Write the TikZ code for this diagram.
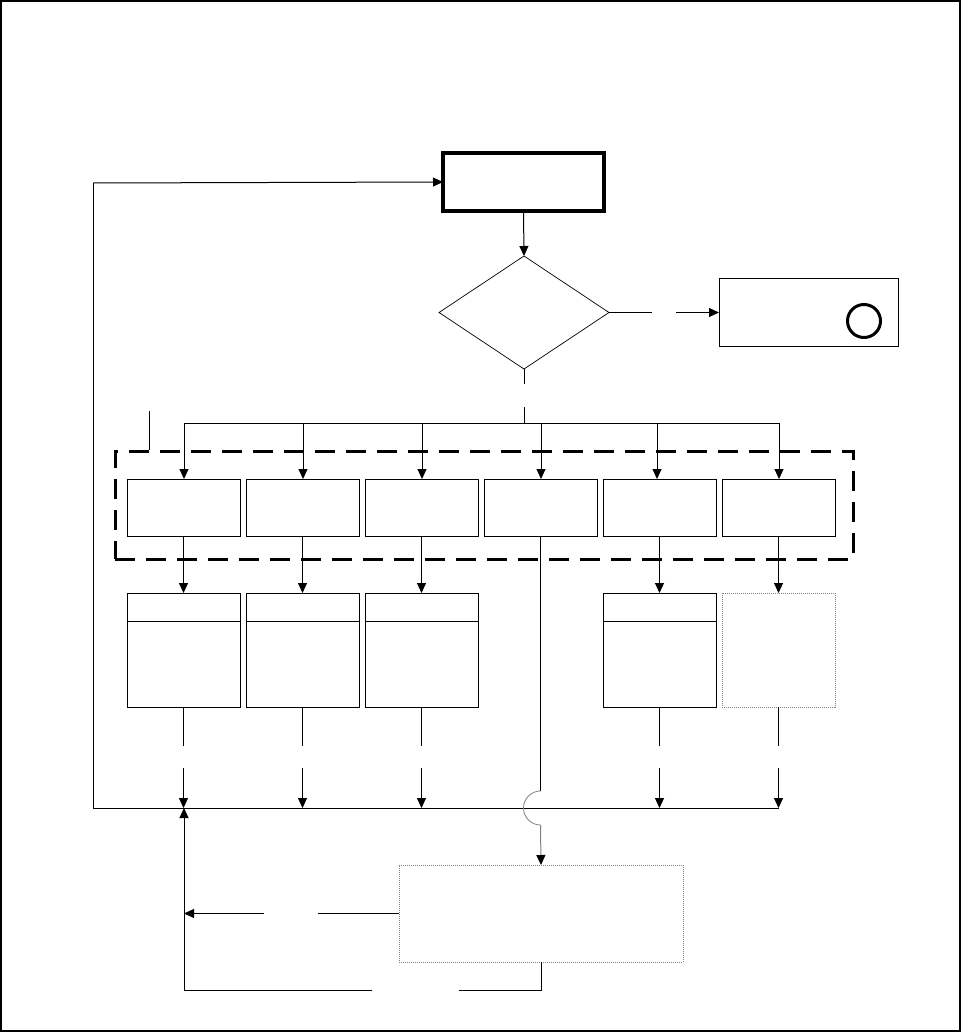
\documentclass[tikz,border=0pt]{standalone}
\usetikzlibrary{arrows.meta,shapes.geometric}
\begin{document}
\begin{tikzpicture}[x=1pt,y=-1pt,
  ln/.style={line width=1pt,draw=black},
  arr/.style={ln,-{Triangle[length=10pt,width=9pt]}},
  plainbox/.style={draw,line width=1pt,rectangle,minimum width=113pt,minimum height=57pt,inner sep=0pt,outer sep=0pt},
  tallbox/.style={draw,line width=1pt,rectangle,minimum width=113pt,minimum height=114pt,inner sep=0pt,outer sep=0pt},
  dotbox/.style={draw=gray,line width=0.8pt,dash pattern=on 1pt off 1pt,rectangle,inner sep=0pt,outer sep=0pt},
]
\useasboundingbox (0,0) rectangle (963,1033);
\draw[line width=1.5pt] (1,1) rectangle (960,1031);

% top elements
\node[draw,line width=4pt,rectangle,minimum width=161pt,minimum height=58pt,inner sep=0pt,outer sep=0pt] (start) at (523.5,182) {};
\node[draw,line width=0.7pt,diamond,minimum width=170pt,minimum height=113pt,inner sep=0pt,outer sep=0pt] (dec) at (524,312.5) {};
\node[draw,line width=1pt,rectangle,minimum width=179pt,minimum height=68pt,inner sep=0pt,outer sep=0pt] (endbox) at (808.5,312) {};
\node[draw,line width=3pt,circle,minimum size=33pt,inner sep=0pt] (endmark) at (864,321) {};

\draw[arr] (start.south) -- (dec.north);
\coordinate (dr1) at (652,312.5);
\coordinate (dr2) at (676,312.5);
\draw[ln] (dec.east) -- (dr1);
\draw[arr] (dr2) -- (dr2 -| endbox.west);

% bus
\coordinate (dd1) at (524,384);
\coordinate (dd2) at (524,407);
\coordinate (hub) at (524,423);
\draw[ln] (dec.south) -- (dd1);
\draw[ln] (dd2) -- (hub);
\coordinate (b1) at (184,423);
\coordinate (b2) at (303,423);
\coordinate (b3) at (422,423);
\coordinate (b4) at (541,423);
\coordinate (b5) at (657,423);
\coordinate (b6) at (779,423);
\draw[ln] (b1) -- (b6);

% dashed group
\node[draw,line width=3pt,dash pattern=on 20pt off 11pt,rectangle,minimum width=738pt,minimum height=108pt,inner sep=0pt] (group) at (484,505) {};
\coordinate (tk1) at (149,411);
\draw[ln] (tk1) -- (tk1 |- group.north);

% row 1
\node[plainbox] (r1a) at (183.5,507.5) {};
\node[plainbox] (r1b) at (302.5,507.5) {};
\node[plainbox] (r1c) at (421.5,507.5) {};
\node[plainbox] (r1d) at (540.5,507.5) {};
\node[plainbox] (r1e) at (659.5,507.5) {};
\node[plainbox] (r1f) at (778.5,507.5) {};
\foreach \b/\r in {b1/r1a,b2/r1b,b3/r1c,b4/r1d,b5/r1e,b6/r1f}
  \draw[arr] (\b) -- (\b |- \r.north);

% row 2
\node[tallbox] (r2a) at (183.5,650) {};
\node[tallbox] (r2b) at (302.5,650) {};
\node[tallbox] (r2c) at (421.5,650) {};
\node[tallbox] (r2e) at (659.5,650) {};
\node[dotbox,minimum width=113pt,minimum height=114pt] (r2f) at (778.5,650) {};
\foreach \r in {r2a,r2b,r2c,r2e}
  \draw[ln] ([yshift=-28pt]\r.north west) -- ([yshift=-28pt]\r.north east);
\foreach \a/\b in {r1a/r2a,r1b/r2b,r1c/r2c,r1e/r2e,r1f/r2f}
  \draw[arr] (\a.south) -- (\b.north);

% return bus
\coordinate (lb) at (93,808);
\coordinate (rb) at (779,808);
\draw[ln] (rb) -- (lb) -- (93,183) coordinate (lt);
\draw[arr] (lt) -- (start.west);
\foreach \r in {r2a,r2b,r2c,r2e,r2f}{
  \draw[ln] (\r.south) -- ([yshift=-39pt]\r.south);
  \draw[arr] ([yshift=-61pt]\r.south) -- (\r.south |- lb);
}

% hop over return bus
\coordinate (hop1) at (540.5,791);
\coordinate (hop2) at (540.5,825);
\draw[ln] (r1d.south) -- (hop1);
\draw[line width=0.8pt,draw=gray] (hop1) arc[start angle=270,end angle=90,radius=17];

% bottom box
\node[dotbox,minimum width=284pt,minimum height=97pt] (bot) at (541,913.5) {};
\draw[line width=1pt,draw=gray,-{Triangle[length=10pt,width=9pt,color=black]}] (hop2) -- (bot.north);

\coordinate (bl1) at (318,913.5);
\coordinate (bl2) at (264,913.5);
\draw[ln] (bot.west) -- (bl1);
\draw[arr] (bl2) -- (184,913.5);

\coordinate (bb1) at (541,990);
\coordinate (bb2) at (459,990);
\coordinate (bb3) at (372,990);
\draw[ln] (bot.south) -- (bb1) -- (bb2);
\draw[arr] (bb3) -- (184,990) -- (184,808);
\end{tikzpicture}
\end{document}
